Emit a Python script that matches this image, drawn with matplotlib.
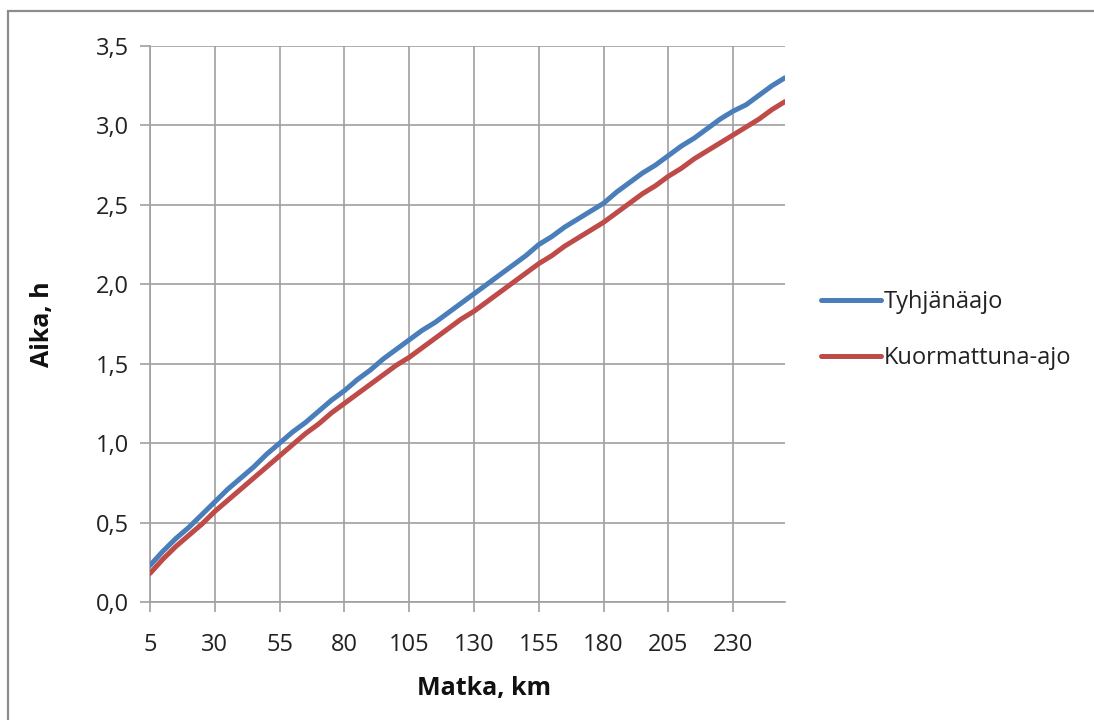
import matplotlib
matplotlib.use("Agg")
import matplotlib.pyplot as plt
from matplotlib.patches import Rectangle

km = list(range(5, 255, 5))
tyhjanaajo = [0.23, 0.32, 0.40, 0.47, 0.55, 0.63, 0.71, 0.78, 0.85, 0.93,
              1.00, 1.07, 1.13, 1.20, 1.27, 1.33, 1.40, 1.46, 1.53, 1.59,
              1.65, 1.71, 1.76, 1.82, 1.88, 1.94, 2.00, 2.06, 2.12, 2.18,
              2.25, 2.30, 2.36, 2.41, 2.46, 2.51, 2.58, 2.64, 2.70, 2.75,
              2.81, 2.87, 2.92, 2.98, 3.04, 3.09, 3.13, 3.19, 3.25, 3.30]
kuormattuna = [0.18, 0.27, 0.35, 0.42, 0.49, 0.57, 0.64, 0.71, 0.78, 0.85,
               0.92, 0.99, 1.06, 1.12, 1.19, 1.25, 1.31, 1.37, 1.43, 1.49,
               1.54, 1.60, 1.66, 1.72, 1.78, 1.83, 1.89, 1.95, 2.01, 2.07,
               2.13, 2.18, 2.24, 2.29, 2.34, 2.39, 2.45, 2.51, 2.57, 2.62,
               2.68, 2.73, 2.79, 2.84, 2.89, 2.94, 2.99, 3.04, 3.10, 3.15]
x_ticks = [5, 30, 55, 80, 105, 130, 155, 180, 205, 230]
y_ticks = [0.0, 0.5, 1.0, 1.5, 2.0, 2.5, 3.0, 3.5]
y_tick_labels = ["0,0", "0,5", "1,0", "1,5", "2,0", "2,5", "3,0", "3,5"]

plt.rcParams['font.family'] = ['Open Sans', 'DejaVu Sans']

W, H = 1094, 720
fig = plt.figure(figsize=(W / 100, H / 100), dpi=100)
fig.patch.set_facecolor('white')

# outer chart frame (cut off at right and bottom)
fig.patches.append(Rectangle((8 / W, -0.1), 1.2, (H - 11) / H + 0.1,
                             transform=fig.transFigure, fill=False,
                             edgecolor='#8c8c8c', linewidth=1.6))

left, right, top, bottom = 150, 785, 46, 602
ax = fig.add_axes([left / W, 1 - bottom / H, (right - left) / W, (bottom - top) / H])

grid_c = '#a0a0a0'
ax.plot(km, tyhjanaajo, color='#4a7ebb', linewidth=3.6, label='Tyhjänäajo',
        solid_capstyle='round', zorder=3)
ax.plot(km, kuormattuna, color='#be4b48', linewidth=3.6, label='Kuormattuna-ajo',
        solid_capstyle='round', zorder=3)

ax.set_xlim(5, 250)
ax.set_ylim(0, 3.5)
ax.set_xticks(x_ticks)
ax.set_xticklabels([str(v) for v in x_ticks])
ax.set_yticks(y_ticks)
ax.set_yticklabels(y_tick_labels)
ax.grid(True, color=grid_c, linewidth=1.2)
ax.set_axisbelow(True)
for s in ['top', 'right']:
    ax.spines[s].set_visible(False)
for s in ['left', 'bottom']:
    ax.spines[s].set_color(grid_c)
    ax.spines[s].set_linewidth(1.2)
ax.tick_params(axis='both', direction='out', length=7, width=1.2, color=grid_c,
               labelsize=17, labelcolor='#222222')
ax.tick_params(axis='x', pad=15)
ax.tick_params(axis='y', pad=8)

fig.text(484 / W, 1 - 688 / H, 'Matka, km', ha='center', va='center',
         fontsize=18, fontweight='bold', color='#111111')
fig.text(42 / W, 1 - 324 / H, 'Aika, h', ha='center', va='center', rotation=90,
         fontsize=18, fontweight='bold', color='#111111')

fig.legend(loc='center left', bbox_to_anchor=(800 / W, 1 - 330 / H), frameon=False,
           fontsize=17, handlelength=2.55, handletextpad=0.1, labelspacing=1.35,
           labelcolor='#222222')

fig.savefig('out.png', dpi=100, facecolor='white')
